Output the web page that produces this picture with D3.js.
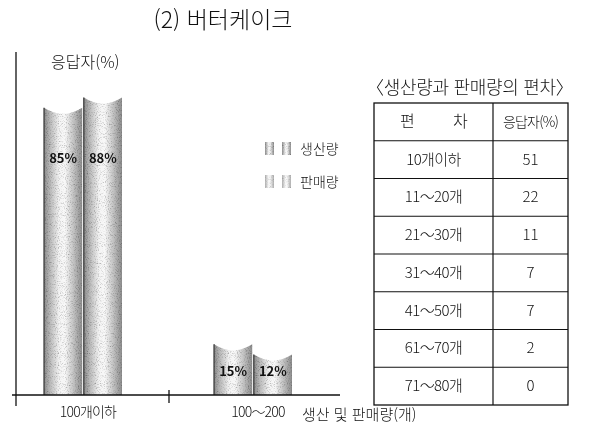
<!DOCTYPE html>
<html lang="ko">
<head>
<meta charset="utf-8">
<title>(2) 버터케이크</title>
<script src="https://cdn.jsdelivr.net/npm/d3@7"></script>
<style>
  body { margin: 0; background: #fff; }
  svg { will-change: transform; }
  text { font-family: "Noto Sans CJK KR", "Noto Sans", sans-serif; fill: #111; font-weight: 300; }
</style>
</head>
<body>
<script>
// data
var groups = ["100개이하", "100～200"];
var seriesNames = ["생산량", "판매량"];
var production = [85, 15];
var sales = [88, 12];
var tableTitle = "〈생산량과 판매량의 편차〉";
var tableHeader = ["편          차", "응답자(%)"];
var tableRanges = ["10개이하", "11～20개", "21～30개", "31～40개", "41～50개", "61～70개", "71～80개"];
var tableValues = [51, 22, 11, 7, 7, 2, 0];

var W = 593, H = 435;
var svg = d3.select("body").append("svg")
    .attr("width", W).attr("height", H);

var defs = svg.append("defs");

// cylinder shading
var grad = defs.append("linearGradient").attr("id", "cyl")
    .attr("x1", "0%").attr("x2", "100%").attr("y1", "0%").attr("y2", "0%");
[[0, "#8a8a8a"], [0.12, "#b0b0b0"], [0.4, "#f4f4f4"], [0.55, "#f8f8f8"], [0.8, "#bcbcbc"], [1, "#8c8c8c"]]
  .forEach(function(s) {
    grad.append("stop").attr("offset", s[0]).attr("stop-color", s[1]);
  });

// grainy print look
var f = defs.append("filter").attr("id", "grain").attr("x", 0).attr("y", 0).attr("width", 1).attr("height", 1);
f.append("feTurbulence").attr("type", "fractalNoise").attr("baseFrequency", 0.9)
  .attr("numOctaves", 2).attr("seed", 3).attr("result", "n");
f.append("feColorMatrix").attr("in", "n").attr("type", "matrix")
  .attr("values", "0 0 0 0 0  0 0 0 0 0  0 0 0 0 0  0 0 0 1.4 -0.7").attr("result", "dots");
f.append("feComposite").attr("in", "dots").attr("in2", "SourceGraphic").attr("operator", "in").attr("result", "d2");
var m = f.append("feMerge");
m.append("feMergeNode").attr("in", "SourceGraphic");
m.append("feMergeNode").attr("in", "d2");

// scales
var baseY = 395;
var x0 = d3.scaleBand().domain(groups).range([-2, 338]);
var x1 = d3.scaleBand().domain(seriesNames).range([-39, 39]).paddingInner(0.04);
var y = d3.scaleLinear().domain([0, 100]).range([baseY, 57]);

// title
svg.append("text").attr("x", 223).attr("y", 28).attr("text-anchor", "middle")
   .style("font-size", "23px").text("(2) 버터케이크");

// y axis
svg.append("line").attr("x1", 16).attr("x2", 16).attr("y1", 52).attr("y2", 406)
   .attr("stroke", "#111").attr("stroke-width", 1.3);
svg.append("text").attr("x", 51).attr("y", 68).style("font-size", "16px").text("응답자(%)");

// bars
function cylPath(x, top, w) {
  var sag = 6;
  return "M" + x + "," + baseY + "V" + top +
         "Q" + (x + w / 2) + "," + (top + 2 * sag) + " " + (x + w) + "," + top +
         "V" + baseY + "Z";
}

var rows = groups.map(function(g, i) {
  return { group: g, vals: [production[i], sales[i]] };
});

var gg = svg.selectAll("g.grp").data(rows).enter().append("g")
    .attr("class", "grp")
    .attr("transform", function(d) { return "translate(" + (x0(d.group) + x0.bandwidth() / 2) + ",0)"; });

function barData(d) {
  return d.vals.map(function(v, j) { return { s: seriesNames[j], v: v }; });
}

gg.selectAll("path.bar").data(barData).enter().append("path")
  .attr("class", "bar")
  .attr("d", function(d) { return cylPath(x1(d.s), y(d.v), x1.bandwidth()); })
  .attr("fill", "url(#cyl)")
  .attr("filter", "url(#grain)");

gg.selectAll("path.edge").data(barData).enter().append("path")
  .attr("class", "edge")
  .attr("d", function(d) { return "M" + x1(d.s) + "," + baseY + "V" + y(d.v); })
  .attr("stroke", "#333").attr("stroke-width", 1.2);

gg.selectAll("text.lab").data(barData).enter().append("text")
  .attr("class", "lab")
  .attr("x", function(d) { return x1(d.s) + x1.bandwidth() / 2; })
  .attr("y", function(d) { return d.v > 50 ? 163 : 376; })
  .attr("text-anchor", "middle")
  .style("font-size", "13px").style("font-weight", "bold")
  .text(function(d) { return d.v + "%"; });

// x axis
svg.append("line").attr("x1", 12).attr("x2", 340).attr("y1", baseY).attr("y2", baseY)
   .attr("stroke", "#111").attr("stroke-width", 1.3);
svg.append("line").attr("x1", x0.step() - 1).attr("x2", x0.step() - 1)
   .attr("y1", baseY - 5).attr("y2", baseY + 8)
   .attr("stroke", "#111").attr("stroke-width", 1.3);
svg.selectAll("text.xl").data(groups).enter().append("text")
   .attr("class", "xl")
   .attr("x", function(d) { return x0(d) + x0.bandwidth() / 2 + 5; })
   .attr("y", 417).attr("text-anchor", "middle")
   .style("font-size", "14px").style("letter-spacing", "-0.8px")
   .text(function(d) { return d; });
svg.append("text").attr("x", 302).attr("y", 420).style("font-size", "15px")
   .text("생산 및 판매량(개)");

// legend
var leg = svg.selectAll("g.leg").data(seriesNames).enter().append("g")
    .attr("class", "leg")
    .attr("transform", function(d, i) { return "translate(265," + (142 + i * 33) + ")"; });
leg.each(function(d, i) {
  var g = d3.select(this);
  [0, 17].forEach(function(dx) {
    g.append("rect").attr("x", dx).attr("y", 0).attr("width", 9).attr("height", 13)
     .attr("fill", "url(#cyl)").attr("filter", "url(#grain)")
     .attr("opacity", i === 0 ? 1 : 0.7);
  });
  g.append("text").attr("x", 35).attr("y", 12).style("font-size", "14px").text(d);
});

// table
var tx = 374, tw = 194, colX = 493, ty = 103, rh = 37.75;
svg.append("text").attr("x", 366).attr("y", 94).style("font-size", "18px")
   .style("letter-spacing", "-0.3px").text(tableTitle);

var tableRows = [tableHeader].concat(tableRanges.map(function(r, i) { return [r, String(tableValues[i])]; }));
var ty2 = ty + rh * tableRows.length;

svg.append("rect").attr("x", tx).attr("y", ty).attr("width", tw).attr("height", ty2 - ty)
   .attr("fill", "none").attr("stroke", "#111").attr("stroke-width", 1.3);
svg.append("line").attr("x1", colX).attr("x2", colX).attr("y1", ty).attr("y2", ty2)
   .attr("stroke", "#111").attr("stroke-width", 1.2);
svg.selectAll("line.rl").data(d3.range(1, tableRows.length)).enter().append("line")
   .attr("class", "rl")
   .attr("x1", tx).attr("x2", tx + tw)
   .attr("y1", function(i) { return ty + i * rh; })
   .attr("y2", function(i) { return ty + i * rh; })
   .attr("stroke", "#111").attr("stroke-width", 1.1);

var tr = svg.selectAll("g.tr").data(tableRows).enter().append("g")
    .attr("class", "tr")
    .attr("transform", function(d, i) { return "translate(0," + (ty + i * rh + rh / 2 + 5) + ")"; });
tr.append("text").attr("x", (tx + colX) / 2).attr("text-anchor", "middle")
  .style("font-size", function(d, i) { return i === 0 ? "16px" : "15px"; })
  .style("letter-spacing", "-0.6px")
  .style("white-space", "pre")
  .attr("xml:space", "preserve")
  .text(function(d) { return d[0]; });
tr.append("text").attr("x", (colX + tx + tw) / 2).attr("text-anchor", "middle")
  .style("font-size", function(d, i) { return i === 0 ? "14px" : "15px"; })
  .style("letter-spacing", function(d, i) { return i === 0 ? "-0.8px" : "0"; })
  .text(function(d) { return d[1]; });
</script>
</body>
</html>
